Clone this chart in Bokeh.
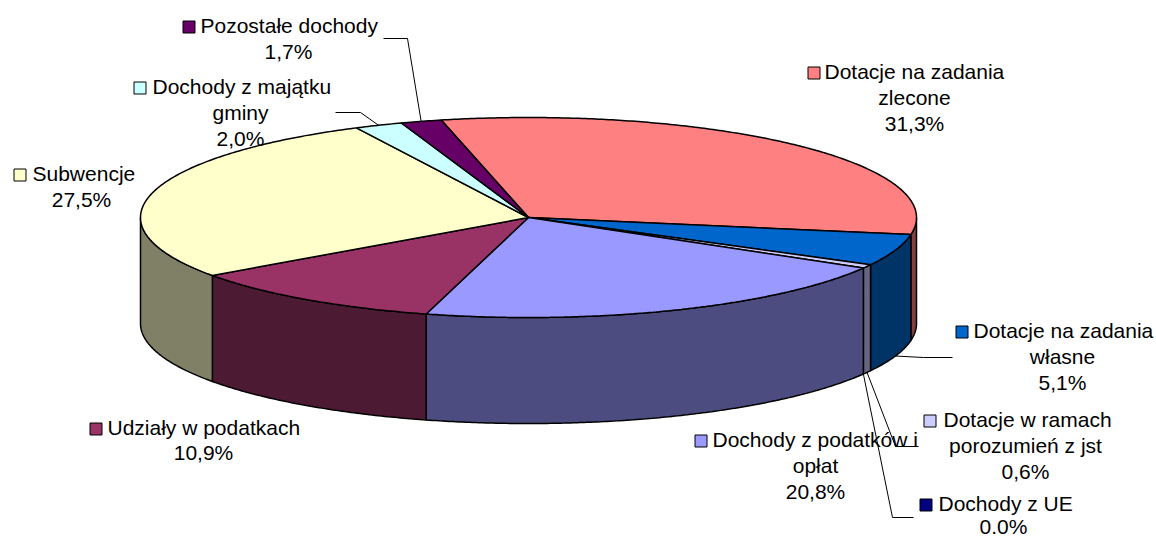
import numpy as np
from bokeh.plotting import figure
from bokeh.models import Range1d
from bokeh.core.properties import value
from bokeh.embed import file_html
from bokeh.resources import INLINE

# ---------------- data (clockwise from the start angle) ----------------
categories = [
    "Dotacje na zadania zlecone",
    "Dotacje na zadania własne",
    "Dotacje w ramach porozumień z jst",
    "Dochody z UE",
    "Dochody z podatków i opłat",
    "Udziały w podatkach",
    "Subwencje",
    "Dochody z majątku gminy",
    "Pozostałe dochody",
]
name_lines = [
    ["Dotacje na zadania", "zlecone"],
    ["Dotacje na zadania", "własne"],
    ["Dotacje w ramach", "porozumień z jst"],
    ["Dochody z UE"],
    ["Dochody z podatków i", "opłat"],
    ["Udziały w podatkach"],
    ["Subwencje"],
    ["Dochody z majątku", "gminy"],
    ["Pozostałe dochody"],
]
shares = [31.3, 5.1, 0.6, 0.0, 20.8, 10.9, 27.5, 2.0, 1.7]
pct_labels = ["31,3%", "5,1%", "0,6%", "0.0%", "20,8%", "10,9%", "27,5%", "2,0%", "1,7%"]
colors = ["#FF8080", "#0066CC", "#CCCCFF", "#000080", "#9999FF",
          "#993366", "#FFFFCC", "#CCFFFF", "#660066"]

# ---------------- layout ----------------
CX, CY, RX, RY, DEPTH = 528.0, 217.0, 388.0, 100.0, 106.0
START_DEG = -13.0
FONT = value("Liberation Sans")
FSIZE = "21px"
LINE_H = 26.0
TEXT_SHIFT = -8.0
W, H = 1156, 539

# (square left x, first baseline y, first line left x, centre x of next lines,
#  line spacing, leader elbow/end)
label_layout = [
    (807, 79, 824, 914, LINE_H, None),
    (955, 338, 973, 1062, LINE_H, [(923, 357), (952, 357)]),
    (923, 427, 943, 1025, LINE_H, [(895, 446), (918, 446)]),
    (919, 511, 938, 1003, 23.0, [(892, 517), (913, 517)]),
    (694, 447, 712, 815, LINE_H, None),
    (89, 435, 107, 203, 25.0, None),
    (13, 181, 32, 81, LINE_H, None),
    (133, 94, 152, 240, LINE_H, [(360, 112), (335, 112)]),
    (182, 33, 200, 288, LINE_H, [(407, 38), (383, 38)]),
]


def darker(hexcol, f=0.5):
    h = hexcol.lstrip("#")
    r, g, b = (int(h[i:i + 2], 16) for i in (0, 2, 4))
    return "#%02X%02X%02X" % (round(r * f), round(g * f), round(b * f))


def arc(a0, a1, dy=0.0):
    n = max(2, int(abs(a1 - a0) * 2) + 2)
    th = np.radians(np.linspace(a0, a1, n))
    return list(CX + RX * np.sin(th)), list(CY - RY * np.cos(th) + dy)


total = sum(shares)
bounds = [START_DEG]
for s in shares:
    bounds.append(bounds[-1] + 360.0 * s / total)

p = figure(width=W, height=H, output_backend="svg", toolbar_location=None,
           x_range=Range1d(0, W), y_range=Range1d(H, 0),
           x_axis_location=None, y_axis_location=None, min_border=0)
p.outline_line_color = None
p.xgrid.visible = False
p.ygrid.visible = False
p.background_fill_color = "white"

# side walls (front half only)
wx, wy, wc = [], [], []
for i, s in enumerate(shares):
    a0, a1 = bounds[i], bounds[i + 1]
    b0, b1 = max(a0, 90.0), min(a1, 270.0)
    if b1 - b0 <= 1e-6:
        continue
    tx, ty = arc(b0, b1)
    bx, by = arc(b0, b1, DEPTH)
    wx.append(tx + bx[::-1])
    wy.append(ty + by[::-1])
    wc.append(darker(colors[i]))
p.patches(wx, wy, fill_color=wc, line_color="black", line_width=1.5)

# top faces
tx_all, ty_all, tc = [], [], []
for i, s in enumerate(shares):
    if s <= 0:
        continue
    ax, ay = arc(bounds[i], bounds[i + 1])
    tx_all.append([CX] + ax)
    ty_all.append([CY] + ay)
    tc.append(colors[i])
p.patches(tx_all, ty_all, fill_color=tc, line_color="black", line_width=1.5)

# labels, keys and leader lines
for i, (sq, base, tx0, cxl, lh, leader) in enumerate(label_layout):
    lines = name_lines[i] + [pct_labels[i]]
    tb = base + TEXT_SHIFT
    p.text(x=[tx0], y=[tb], text=[lines[0]], text_font=FONT, text_font_size=FSIZE,
           text_align="left", text_baseline="alphabetic", text_color="black")
    rest = lines[1:]
    p.text(x=[cxl] * len(rest), y=[tb + lh * (k + 1) for k in range(len(rest))],
           text=rest, text_font=FONT, text_font_size=FSIZE,
           text_align="center", text_baseline="alphabetic", text_color="black")
    p.scatter(x=[sq + 6.5], y=[base - 6.5], marker="square", size=12,
              fill_color=colors[i], line_color="black", line_width=1)
    if leader:
        mid = (bounds[i] + bounds[i + 1]) / 2.0
        th = np.radians(mid)
        axp = CX + RX * np.sin(th)
        ayp = CY - RY * np.cos(th) + (DEPTH if np.cos(th) < 0 else 0.0)
        lx = [axp] + [pt[0] for pt in leader]
        ly = [ayp] + [pt[1] for pt in leader]
        p.line(lx, ly, line_color="black", line_width=1)

open("out.html", "w").write(file_html(p, INLINE))
